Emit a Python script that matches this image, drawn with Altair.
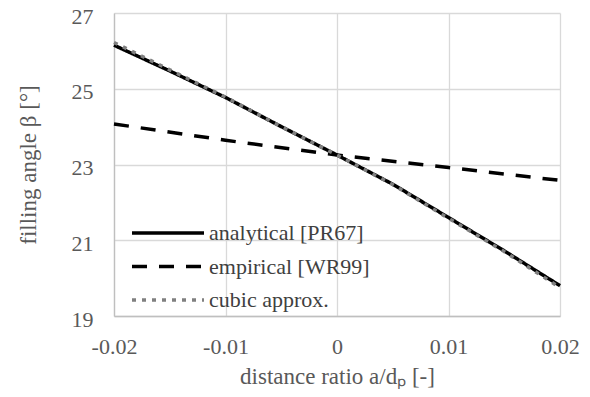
import altair as alt
import pandas as pd

series_names = ["analytical [PR67]", "empirical [WR99]", "cubic approx."]

x_analytical = [-0.02, -0.015, -0.01, -0.005, 0.0, 0.005, 0.01, 0.015, 0.02]
y_analytical = [26.15, 25.47, 24.77, 24.0, 23.25, 22.48, 21.6, 20.72, 19.8]

x_empirical = [-0.02, -0.01, 0.0, 0.01, 0.02]
y_empirical = [24.07, 23.64, 23.25, 22.92, 22.58]

x_cubic = [-0.02, -0.015, -0.01, -0.005, 0.0, 0.005, 0.01, 0.015, 0.02]
y_cubic = [26.22, 25.5, 24.78, 24.0, 23.25, 22.47, 21.58, 20.7, 19.75]

x_ticks = [-0.02, -0.01, 0.0, 0.01, 0.02]
y_ticks = [19, 21, 23, 25, 27]

rows = []
for name, xs, ys in [
    (series_names[0], x_analytical, y_analytical),
    (series_names[1], x_empirical, y_empirical),
    (series_names[2], x_cubic, y_cubic),
]:
    for i, (xv, yv) in enumerate(zip(xs, ys)):
        rows.append({"series": name, "x": xv, "y": yv, "order": i})
df = pd.DataFrame(rows)

FONT = "Liberation Serif"

legend = alt.Legend(
    title=None,
    orient="none",
    legendX=16,
    legendY=209,
    labelFont=FONT,
    labelFontSize=22,
    labelColor="#404040",
    labelOffset=3,
    symbolType="stroke",
    symbolSize=5184,
    clipHeight=22,
    rowPadding=11.5,
    padding=0,
    labelLimit=400,
)

chart = (
    alt.Chart(df)
    .mark_line(strokeCap="butt", strokeJoin="round")
    .encode(
        x=alt.X(
            "x:Q",
            scale=alt.Scale(domain=[-0.02, 0.02], nice=False, zero=False),
            axis=alt.Axis(
                values=x_ticks,
                title="distance ratio  a/dₚ [-]",
                labelExpr="datum.value == 0 ? '0' : (datum.value < 0 ? '-' + format(-datum.value, '.2f') : format(datum.value, '.2f'))",
                labelPadding=20,
                labelFlush=False,
                labelOverlap=False,
                titlePadding=8,
            ),
        ),
        y=alt.Y(
            "y:Q",
            scale=alt.Scale(domain=[19, 27], nice=False, zero=False),
            axis=alt.Axis(
                values=y_ticks,
                title="filling  angle β [°]",
                labelPadding=21,
                labelOffset=3,
                labelFlush=False,
                labelOverlap=False,
                titlePadding=31,
            ),
        ),
        color=alt.Color(
            "series:N",
            scale=alt.Scale(domain=series_names, range=["#000000", "#000000", "#808080"]),
            legend=legend,
        ),
        strokeDash=alt.StrokeDash(
            "series:N",
            scale=alt.Scale(domain=series_names, range=[[1, 0], [15, 12], [4, 6]]),
            legend=legend,
        ),
        strokeWidth=alt.StrokeWidth(
            "series:N",
            scale=alt.Scale(domain=series_names, range=[3.5, 3.5, 4]),
            legend=legend,
        ),
        order="order:Q",
    )
    .properties(
        width=446,
        height=303,
        autosize=alt.AutoSizeParams(type="none"),
        padding={"left": 106, "top": 5, "right": 20, "bottom": 73},
    )
    .configure_view(stroke=None)
    .configure_axis(
        labelFont=FONT,
        titleFont=FONT,
        labelFontSize=22,
        titleFontSize=23,
        labelColor="#595959",
        titleColor="#595959",
        titleFontWeight="normal",
        gridColor="#d9d9d9",
        gridWidth=1.3,
        domainColor="#bfbfbf",
        domainWidth=1.3,
        ticks=False,
    )
)

chart.save("out.html", embed_options={"renderer": "svg", "actions": False})
